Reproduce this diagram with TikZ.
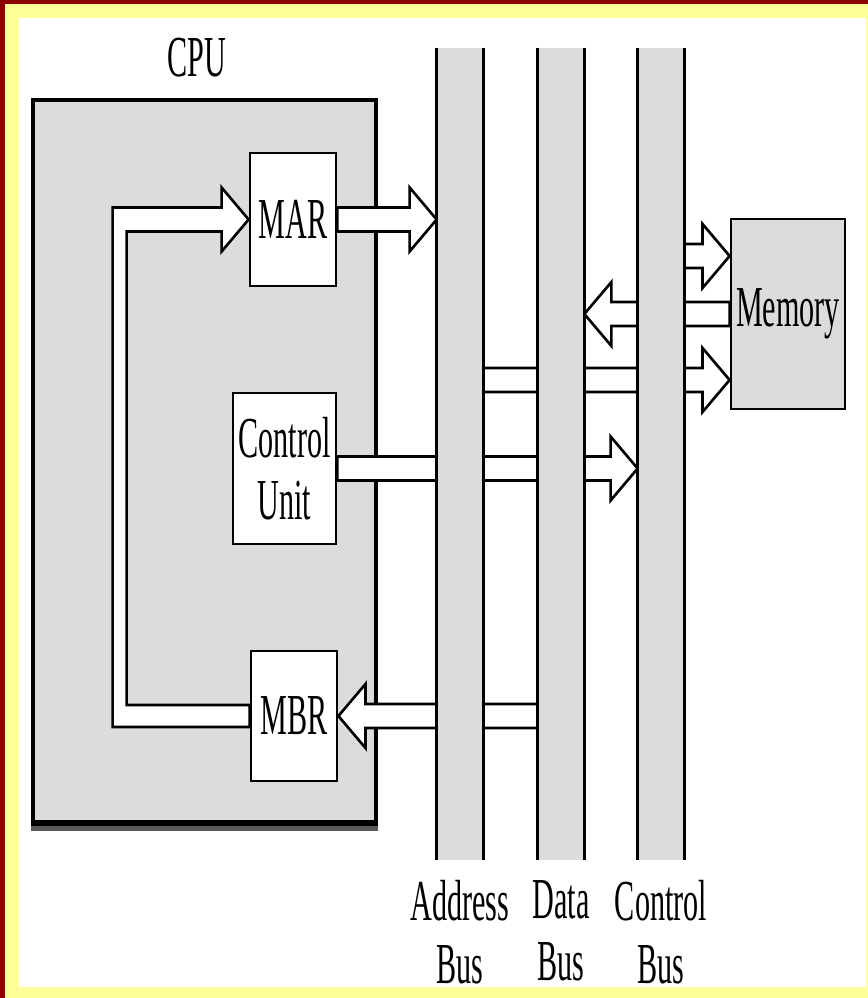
\documentclass[tikz,border=0pt]{standalone}
\usepackage{fontspec}
\setmainfont{Liberation Serif}[FakeStretch=0.52]
\usetikzlibrary{positioning, calc}

\definecolor{framered}{HTML}{8E0000}
\definecolor{frameyellow}{HTML}{FFFF99}
\definecolor{boxgrey}{HTML}{DCDBDE}

\begin{document}
\begin{tikzpicture}[
        x=0.02cm, y=-0.02cm,
        cpubox/.style={draw=black, fill=boxgrey, rectangle, minimum width=6.86cm, minimum height=14.44cm, line width=2.2pt},
        reg/.style={draw=black, fill=white, rectangle, minimum width=1.72cm, minimum height=2.66cm, align=center, inner sep=0pt, line width=1.6pt},
        membox/.style={draw=black, fill=boxgrey, rectangle, minimum width=2.28cm, minimum height=3.8cm, inner sep=0pt, line width=1.6pt},
        bus/.style={rectangle, minimum width=0.92cm, minimum height=16.24cm, inner sep=0pt},
        busline/.style={line width=1.6pt},
        buslabel/.style={align=center, inner sep=0pt},
        fatline/.style={draw=black, fill=white, line width=1.5pt, line join=miter},
        fat/.style={fatline, to path={let \p1=(\tikztostart), \p2=(\tikztotarget), \n1={sign(\x2-\x1)} in
            (\x1,\y1+6.8pt) -- (\x2-\n1*15.4pt,\y1+6.8pt) -- (\x2-\n1*15.4pt,\y1+18.2pt) -- (\x2,\y1)
            -- (\x2-\n1*15.4pt,\y1-18.2pt) -- (\x2-\n1*15.4pt,\y1-6.8pt) -- (\x1,\y1-6.8pt) -- cycle}},
        font=\fontsize{33}{35.5}\selectfont
    ]
    % Frame
    \useasboundingbox (0,0) rectangle (868,998);
    \fill[frameyellow] (0,0) rectangle (868,998);
    \fill[framered] (0,0) rectangle (868,4);
    \fill[framered] (0,0) rectangle (5,998);
    \fill[white] (19,18) rectangle (866,987);

    % Nodes
    \node (cpulabel) at (197,58) {CPU};
    \node[cpubox] (cpu) at (204.5,461) {};
    \draw[black!65, line width=3pt] ([yshift=-2.6pt]cpu.south west) -- ([yshift=-2.6pt]cpu.south east);
    \draw[line width=2.2pt] (cpu.south west) -- (cpu.south east);
    \node[reg] (mar) at (293,219.5) {MAR};
    \node[reg, minimum width=2.06cm, minimum height=3.02cm] (cu) at (284.5,468.5) {Control\\Unit};
    \node[reg, minimum height=2.6cm] (mbr) at (294,716) {MBR};
    \node[membox] (mem) at (788,314) {Memory};
    \node[bus] (addr) at (460,454) {};
    \node[bus] (data) at (561,454) {};
    \node[bus] (ctrl) at (661,454) {};
    \coordinate (memin1) at ($(mem.west)+(0,-58)$);
    \coordinate (memin2) at ($(mem.west)+(0,66)$);

    % Loop from MBR back to MAR
    \draw[fatline] ($(mbr.west)+(0,11)$) -- ++(-137,0) |- ($(mar.west)+(-27,-12)$) -- ++(0,-20) -- (mar.west)
        -- ($(mar.west)+(-27,32)$) -- ++(0,-20) -| ($(mbr.west)+(-123,-11)$) -- ($(mbr.west)+(0,-11)$) -- cycle;

    % Arrows to and from the buses
    \draw[fat] (mar.east) to (addr.west |- mar.east);
    \draw[fat] (cu.east) to (ctrl.west |- cu.east);
    \draw[fat] (data.west |- mbr.east) to (mbr.east);
    \draw[fat] (ctrl.east |- memin1) to (memin1);
    \draw[fat] (mem.west) to (data.east |- mem.west);
    \draw[fat] (addr.east |- memin2) to (memin2);

    % Buses on top
    \foreach \b in {addr, data, ctrl} {
        \fill[boxgrey] (\b.north west) rectangle (\b.south east);
        \draw[busline] (\b.north west) -- (\b.south west);
        \draw[busline] (\b.north east) -- (\b.south east);
    }

    % Bus labels
    \node[buslabel, below=0.4cm of addr] (addrlabel) {Address\\Bus};
    \node[buslabel, below=0.4cm of data] (datalabel) {Data\\Bus};
    \node[buslabel, below=0.4cm of ctrl] (ctrllabel) {Control\\Bus};
\end{tikzpicture}
\end{document}
